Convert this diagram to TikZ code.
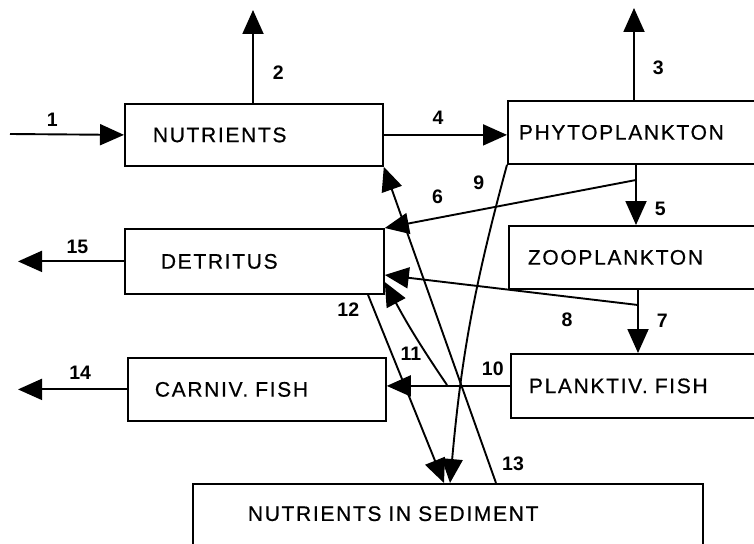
\documentclass[tikz,border=0pt]{standalone}
\usepackage{fontspec}
\setmainfont{Liberation Sans}
\newfontfamily\poolfont{Liberation Sans}[LetterSpace=8, FakeBold=0.6]
\usepackage{tikz}
\usetikzlibrary{arrows.meta}

\begin{document}
\begin{tikzpicture}[
    x=1pt, y=-1pt,
    pool/.style={draw=black, line width=1.8pt, anchor=north west,
                 align=left, inner ysep=0pt,
                 font=\fontsize{21}{24}\selectfont\poolfont},
    flow/.style={-{Triangle[length=24pt,width=21pt]}, line width=1.9pt},
    num/.style={inner sep=0pt, font=\fontsize{19.5}{22}\selectfont\bfseries},
]

% ── frame ────────────────────────────────────────────────────
\clip (0,0) rectangle (754,543);

% ════ POOLS ══════════════════════════════════════════════════
\node[pool, text width=202pt, inner xsep=28pt, minimum height=62pt] (nut)  at (124,103) {NUTRIENTS};
\node[pool, text width=241pt, inner xsep=11pt, minimum height=63pt] (phy)  at (507,100) {PHYTOPLANKTON};
\node[pool, text width=187pt, inner xsep=36pt, minimum height=65pt] (det)  at (124,228) {DETRITUS};
\node[pool, text width=224pt, inner xsep=19pt, minimum height=63pt] (zoo)  at (508,225) {ZOOPLANKTON};
\node[pool, text width=204pt, inner xsep=27pt, minimum height=63pt] (carn) at (127,357) {CARNIV. FISH};
\node[pool, text width=224pt, inner xsep=18pt, minimum height=64pt] (plk)  at (510,353) {PLANKTIV. FISH};
\node[pool, text width=400pt, inner xsep=55pt, text height=37pt, text depth=100pt] (sed) at (192,483) {NUTRIENTS IN SEDIMENT};

% ── free ends and branch points ──────────────────────────────
\coordinate (in1)   at (10,134);
\coordinate (out2)  at (253,10);
\coordinate (out3)  at (634,8);
\coordinate (out14) at (18,389);
\coordinate (out15) at (18,261);
\coordinate (b5)    at (636,180);
\coordinate (b7)    at (638,305);
\coordinate (b10)   at (447,385);

% ════ IN / OUT ═══════════════════════════════════════════════
% 1. import of nutrients
\draw[flow] (in1) -- node[num, above=7pt, pos=0.37]{1} (nut.west);

% 2. nutrients out
\draw[flow] (out2 |- nut.north) -- node[num, right=19pt, pos=0.33]{2} (out2);

% 3. phytoplankton out
\draw[flow] (out3 |- phy.north) -- node[num, right=18pt, pos=0.35]{3} (out3);

% 14. carnivorous fish out
\draw[flow] (carn.west) -- node[num, above=9pt, pos=0.43]{14} (carn.west -| out14);

% 15. detritus out
\draw[flow] (det.west) -- node[num, above=7pt, pos=0.44]{15} (det.west -| out15);

% ════ FOOD CHAIN ═════════════════════════════════════════════
% 4. uptake
\draw[flow] (nut.east) -- node[num, above=9pt, pos=0.44]{4} (nut.east -| phy.west);

% 5. grazing
\draw[flow] (b5 |- phy.south) -- node[num, right=18pt, pos=0.74]{5} (b5 |- zoo.north);

% 6. phytoplankton -> detritus
\draw[flow] (b5) -- node[num, above=13pt, pos=0.79]{6} (det.north east);

% 7. predation
\draw[flow] (b7 |- zoo.south) -- node[num, right=18pt, pos=0.49]{7} (b7 |- plk.north);

% 8. zooplankton -> detritus
\draw[flow] (b7) -- node[num, below=15pt, pos=0.28]{8} (det.east |- 0,275);

% 10. planktivorous -> carnivorous fish
\draw[flow] (plk.west) -- node[num, above=9pt, pos=0.14]{10} (plk.west -| carn.east);

% 11. fish -> detritus
\draw[flow] (b10) to[bend left=3] node[num, left=4pt, pos=0.3]{11} (det.east |- 0,282);

% ════ SEDIMENT ═══════════════════════════════════════════════
% 9. phytoplankton settling
\draw[flow] (phy.south west) to[bend right=5] node[num, left=17pt, pos=0.05]{9} (450,0 |- sed.north);

% 12. detritus settling
\draw[flow] (det.south -| 368,0) -- node[num, left=14pt, pos=0.08]{12} (444,0 |- sed.north);

% 13. release from sediment
\draw[flow] (496,0 |- sed.north) -- node[num, right=12pt, pos=0.06]{13} (nut.south east);

\end{tikzpicture}
\end{document}
